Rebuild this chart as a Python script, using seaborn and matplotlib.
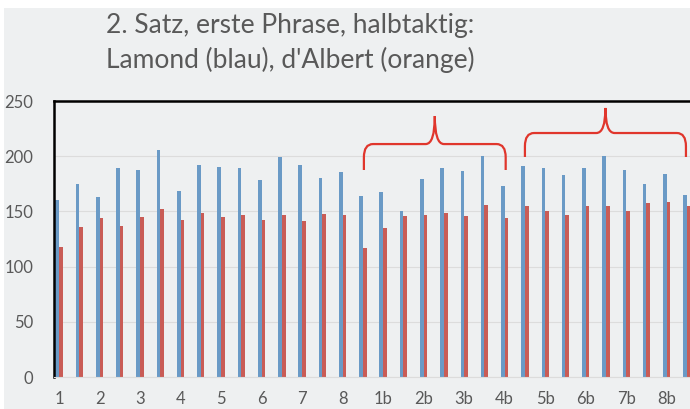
import numpy as np
import pandas as pd
import matplotlib
matplotlib.use("Agg")
import matplotlib.pyplot as plt
from matplotlib.path import Path
from matplotlib.patches import PathPatch, Rectangle
import seaborn as sns

# half-bar values, 32 pairs (1 .. 8, 1b .. 8b, two halves each)
lamond = [160, 174.8, 162.8, 189.6, 187.2, 205.3, 168.8, 192.3,
          190.5, 189.6, 178.4, 199.3, 192, 180, 185.4, 163.6,
          167.9, 150.6, 179.3, 189.6, 186.3, 200.2, 173, 191.4,
          189.3, 182.6, 189.6, 200.2, 187.8, 174.8, 184.2, 164.6]
dalbert = [117.5, 135.9, 143.7, 137, 144.6, 152.5, 142.2, 148.8,
           144.6, 146.4, 141.9, 146.4, 141.3, 147.9, 147, 116.5,
           135, 145.5, 147, 148.8, 145.5, 155.8, 143.7, 154.9,
           150.6, 147, 154.9, 154.9, 150.6, 157.3, 158.5, 154.9]
tick_labels = ["1", "2", "3", "4", "5", "6", "7", "8",
               "1b", "2b", "3b", "4b", "5b", "6b", "7b", "8b"]

n = len(lamond)
df = pd.DataFrame({
    "pos": list(range(n)) * 2,
    "wert": lamond + dalbert,
    "spieler": ["Lamond"] * n + ["d'Albert"] * n,
})

bg = "#eef0f1"
txt = "#595959"
blue = "#5b9bd5"
red = "#dc4b43"

sns.set_style("white")
plt.rcParams["font.family"] = ["Lato", "DejaVu Sans"]

fig = plt.figure(figsize=(6.9, 4.09), dpi=100, facecolor="white")
fig.patches.append(Rectangle((4 / 690, 0), 1, 1 - 8 / 409, transform=fig.transFigure,
                             facecolor=bg, edgecolor="none", zorder=-10))
ax = fig.add_axes([54 / 690, 1 - 377 / 409, 1 - 54 / 690, (377 - 101) / 409])
ax.set_facecolor(bg)

sns.barplot(data=df, x="pos", y="wert", hue="spieler", palette=[blue, red],
            width=0.36, dodge=True, legend=False, ax=ax, native_scale=True,
            linewidth=0)

ax.set_xlim(-0.25, 31.15)
ax.set_ylim(0, 250)
ax.set_yticks(np.arange(0, 251, 50))
ax.set_xticks(np.arange(0, n, 2))
ax.set_xticklabels(tick_labels)
ax.tick_params(axis="both", length=0, colors=txt, labelsize=12)
ax.tick_params(axis="y", pad=15)
ax.tick_params(axis="x", pad=10)
ax.set_xlabel("")
ax.set_ylabel("")
ax.yaxis.grid(True, color="#dcdcdc", lw=0.8)
ax.set_axisbelow(True)
for s in ["left", "top"]:
    ax.spines[s].set_color("black")
    ax.spines[s].set_linewidth(1.8)
ax.spines["right"].set_visible(False)
ax.spines["bottom"].set_color("#dcdcdc")
ax.spines["bottom"].set_linewidth(0.8)


def brace(ax, x0, x1, y_end, y_h, y_peak, rx=0.45, ry=12):
    xm = (x0 + x1) / 2
    verts = [(x0, y_end), (x0, y_h - ry), (x0, y_h), (x0 + rx, y_h),
             (xm - rx, y_h), (xm, y_h), (xm, y_peak),
             (xm, y_h), (xm + rx, y_h),
             (x1 - rx, y_h), (x1, y_h), (x1, y_h - ry), (x1, y_end)]
    codes = [Path.MOVETO, Path.LINETO, Path.CURVE3, Path.CURVE3,
             Path.LINETO, Path.CURVE3, Path.CURVE3,
             Path.CURVE3, Path.CURVE3,
             Path.LINETO, Path.CURVE3, Path.CURVE3, Path.LINETO]
    ax.add_patch(PathPatch(Path(verts, codes), fill=False, edgecolor="#e0362c",
                           lw=1.6, clip_on=False, zorder=5))


brace(ax, 15.05, 22.05, 187.5, 211, 236.4)
brace(ax, 23.0, 30.95, 199.3, 221, 243.7)

fig.text(290 / 690, 1 - 25 / 409, "2. Satz, erste Phrase, halbtaktig:",
         ha="center", va="center", fontsize=19, color=txt)
fig.text(290 / 690, 1 - 60 / 409, "Lamond (blau), d'Albert (orange)",
         ha="center", va="center", fontsize=19, color=txt)

fig.savefig("out.png", dpi=100, facecolor=fig.get_facecolor())
